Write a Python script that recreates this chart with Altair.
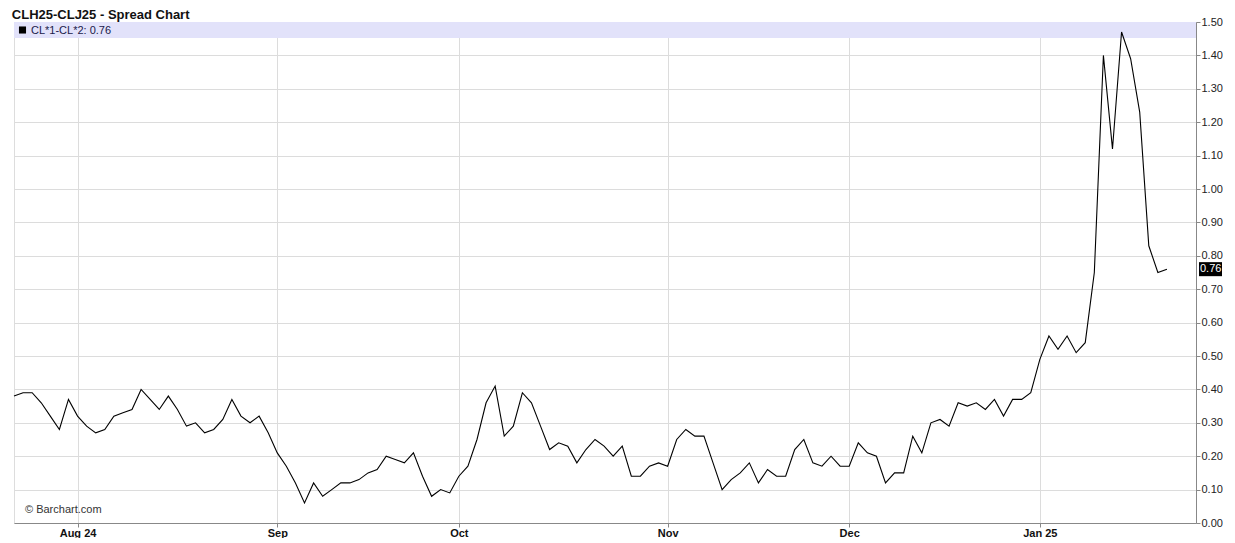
import altair as alt
import pandas as pd

# Spread values (CL*1 - CL*2), one per trading day, Jul 23 2024 .. Jan 2025
values = [
    0.38, 0.39, 0.39, 0.36, 0.32, 0.28, 0.37, 0.32, 0.29, 0.27,
    0.28, 0.32, 0.33, 0.34, 0.40, 0.37, 0.34, 0.38, 0.34, 0.29,
    0.30, 0.27, 0.28, 0.31, 0.37, 0.32, 0.30, 0.32, 0.27, 0.21,
    0.17, 0.12, 0.06, 0.12, 0.08, 0.10, 0.12, 0.12, 0.13, 0.15,
    0.16, 0.20, 0.19, 0.18, 0.21, 0.14, 0.08, 0.10, 0.09, 0.14,
    0.17, 0.25, 0.36, 0.41, 0.26, 0.29, 0.39, 0.36, 0.29, 0.22,
    0.24, 0.23, 0.18, 0.22, 0.25, 0.23, 0.20, 0.23, 0.14, 0.14,
    0.17, 0.18, 0.17, 0.25, 0.28, 0.26, 0.26, 0.18, 0.10, 0.13,
    0.15, 0.18, 0.12, 0.16, 0.14, 0.14, 0.22, 0.25, 0.18, 0.17,
    0.20, 0.17, 0.17, 0.24, 0.21, 0.20, 0.12, 0.15, 0.15, 0.26,
    0.21, 0.30, 0.31, 0.29, 0.36, 0.35, 0.36, 0.34, 0.37, 0.32,
    0.37, 0.37, 0.39, 0.49, 0.56, 0.52, 0.56, 0.51, 0.54, 0.75,
    1.40, 1.12, 1.47, 1.39, 1.23, 0.83, 0.75, 0.76,
]
month_idx = [7, 29, 49, 72, 92, 113]
month_labels = ["Aug 24", "Sep", "Oct", "Nov", "Dec", "Jan 25"]
y_ticks = [round(i * 0.1, 2) for i in range(16)]

df = pd.DataFrame({"i": list(range(len(values))), "v": values})
last = values[-1]

FONT = "Liberation Sans"
W, H = 1182, 501
xs = alt.Scale(domain=[0, 130.2], nice=False, zero=False)
ys = alt.Scale(domain=[0, 1.5], nice=False)

label_map = "{" + ",".join(f"'{k}':'{l}'" for k, l in zip(month_idx, month_labels)) + "}"

y_axis = alt.Axis(values=y_ticks, format=".2f", orient="right", title=None,
                  grid=True, gridColor="#dcdcdc", tickColor="#888",
                  domainColor="#888", labelFont=FONT, labelFontSize=11,
                  labelColor="#222", tickSize=4, labelPadding=1,
                  labelOverlap=False)

band = alt.Chart(pd.DataFrame({"a": [0]})).mark_rect(color="#e2e2fa").encode(
    x=alt.value(0), x2=alt.value(W), y=alt.value(0), y2=alt.value(16)
)

line = alt.Chart(df).mark_line(color="#000000", strokeWidth=1.1).encode(
    x=alt.X("i:Q", scale=xs,
            axis=alt.Axis(values=month_idx, labelExpr=f"{label_map}[datum.value]",
                          title=None, grid=True, gridColor="#dcdcdc", tickColor="#888",
                          domainColor="#888", labelFont=FONT, labelFontSize=11,
                          labelFontWeight="bold", labelColor="#111", tickSize=4,
                          labelPadding=0, labelOverlap=False)),
    y=alt.Y("v:Q", scale=ys, axis=y_axis),
)

legend_sq = alt.Chart(pd.DataFrame({"a": [0]})).mark_square(color="#000", size=50, opacity=1).encode(
    x=alt.value(8.5), y=alt.value(8)
)
legend_txt = alt.Chart(pd.DataFrame({"t": [f"CL*1-CL*2: {last:.2f}"]})).mark_text(
    align="left", baseline="middle", font=FONT, fontSize=11, color="#1a1a4a"
).encode(x=alt.value(17), y=alt.value(8.5), text="t:N")

credit = alt.Chart(pd.DataFrame({"t": ["© Barchart.com"]})).mark_text(
    align="left", baseline="alphabetic", font=FONT, fontSize=11, color="#333"
).encode(x=alt.value(11), y=alt.value(491), text="t:N")

tag_df = pd.DataFrame({"v": [last], "lo": [last - 0.021], "hi": [last + 0.021],
                       "t": [f"{last:.2f}"]})
tag_box = alt.Chart(tag_df).mark_rect(color="#000").encode(
    x=alt.value(W + 3), x2=alt.value(W + 26),
    y=alt.Y("lo:Q", scale=ys, axis=y_axis), y2="hi:Q"
)
tag_txt = alt.Chart(tag_df).mark_text(
    align="left", baseline="middle", font=FONT, fontSize=11, color="#fff"
).encode(x=alt.value(W + 4), y=alt.Y("v:Q", scale=ys, axis=y_axis), text="t:N")

chart = alt.layer(band, line, legend_sq, legend_txt, credit, tag_box, tag_txt).properties(
    width=W, height=H,
    title=alt.TitleParams("CLH25-CLJ25 - Spread Chart", anchor="start", font=FONT,
                          fontSize=13, fontWeight="bold", color="#111", offset=-6, dx=0),
    padding={"left": 3, "top": 1, "right": 0, "bottom": 0},
).configure_view(stroke="#999", strokeWidth=1).configure(background="white")

chart.save("out.html", embed_options={"renderer": "svg", "actions": False})
